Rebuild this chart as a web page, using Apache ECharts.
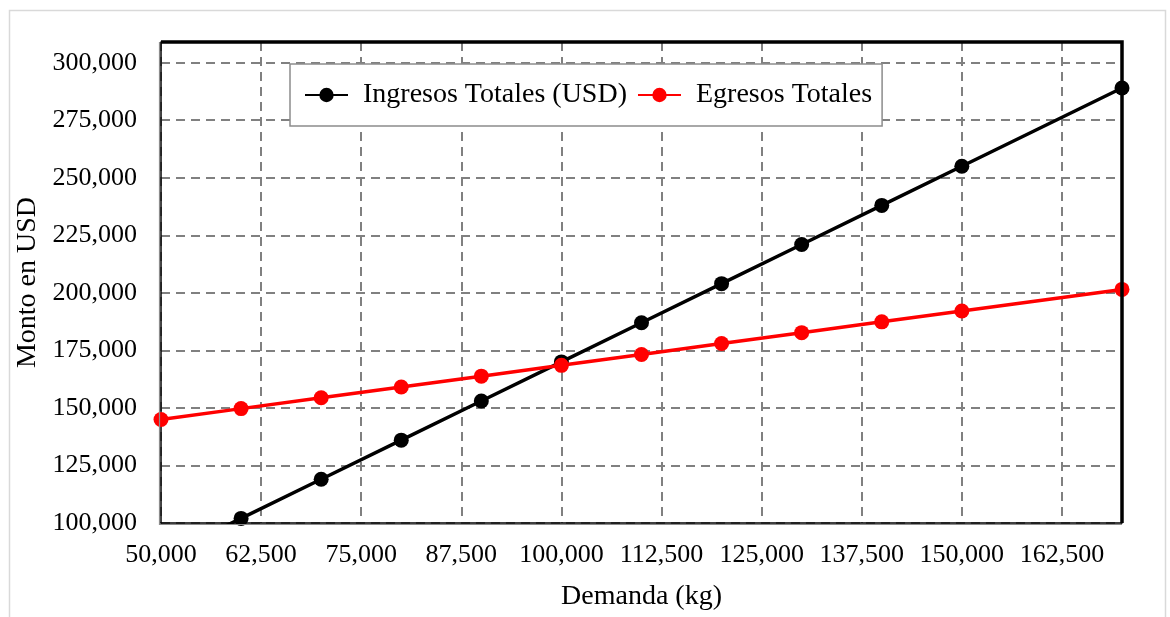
<!DOCTYPE html>
<html>
<head>
<meta charset="utf-8">
<script src="https://cdn.jsdelivr.net/npm/echarts@6/dist/echarts.min.js"></script>
<style>
html,body{margin:0;padding:0;background:#fff;}
#chart{width:1170px;height:617px;}
</style>
</head>
<body>
<div id="chart"></div>
<script>
const demanda = [50000, 60000, 70000, 80000, 90000, 100000, 110000, 120000, 130000, 140000, 150000, 170000];
const ingresos = [85000, 102000, 119000, 136000, 153000, 170000, 187000, 204000, 221000, 238000, 255000, 289000];
const egresos = [145000, 149700, 154400, 159100, 163800, 168500, 173200, 178000, 182700, 187400, 192100, 201500];
const seriesNames = ['Ingresos Totales (USD)', 'Egresos Totales'];
const xTitle = 'Demanda (kg)';
const yTitle = 'Monto en USD';

const FONT = "'Liberation Serif', 'Times New Roman', serif";
const fmt = v => Math.round(v).toLocaleString('en-US');
const G = {left: 161, top: 42, right: 1122, bottom: 523};
const chart = echarts.init(document.getElementById('chart'), null, {renderer: 'canvas'});

chart.setOption({
  backgroundColor: '#fff',
  animation: false,
  graphic: [
    {type: 'rect', left: 7, top: 8, shape: {width: 1156, height: 640},
     style: {fill: 'none', stroke: '#d9d9d9', lineWidth: 1.5}, silent: true, z: -10},
    {type: 'polyline', silent: true, z: 100,
     shape: {points: [[G.left, G.top], [G.right, G.top], [G.right, G.bottom]]},
     style: {stroke: '#000', lineWidth: 3.5, fill: 'none'}},
    {type: 'polyline', silent: true, z: 100,
     shape: {points: [[G.left - 1.5, G.top], [G.left - 1.5, G.bottom + 1.5], [G.right, G.bottom + 1.5]]},
     style: {stroke: '#8c8c8c', lineWidth: 1.2, fill: 'none'}}
  ],
  grid: {left: G.left, right: 1170 - G.right, top: G.top, bottom: 617 - G.bottom, show: false,
         containLabel: false, outerBoundsMode: 'none'},
  legend: {
    left: 290, top: 64, width: 594,
    padding: [17, 10, 17, 14],
    borderColor: '#8c8c8c', borderWidth: 1.5, backgroundColor: '#fff',
    itemWidth: 43, itemHeight: 18, itemGap: 10,
    textStyle: {fontFamily: FONT, fontSize: 28, color: '#000', padding: [0, 0, 0, 10]},
    data: seriesNames
  },
  xAxis: {
    type: 'value', min: 50000, max: 170000, interval: 12500,
    name: xTitle, nameLocation: 'middle', nameGap: 60,
    nameTextStyle: {fontFamily: FONT, fontSize: 28, color: '#000'},
    axisLine: {show: true, onZero: false, lineStyle: {color: '#000', width: 1.5}},
    axisTick: {show: false},
    axisLabel: {fontFamily: FONT, fontSize: 26, color: '#000', margin: 19, formatter: fmt, showMaxLabel: false},
    splitLine: {show: true, lineStyle: {color: '#808080', width: 2, type: [9, 6]}}
  },
  yAxis: {
    type: 'value', min: 100000, max: 309000, interval: 25000,
    name: yTitle, nameLocation: 'middle', nameGap: 110, nameRotate: 90,
    nameTextStyle: {fontFamily: FONT, fontSize: 28, color: '#000'},
    axisLine: {show: true, onZero: false, lineStyle: {color: '#000', width: 1.5}},
    axisTick: {show: false},
    axisLabel: {fontFamily: FONT, fontSize: 26, color: '#000', margin: 24, formatter: fmt, showMaxLabel: false},
    splitLine: {show: true, lineStyle: {color: '#808080', width: 2, type: [9, 6]}}
  },
  series: [
    {
      name: seriesNames[0], type: 'line', clip: true,
      data: demanda.map((d, i) => [d, ingresos[i]]),
      symbol: 'circle', symbolSize: 15,
      lineStyle: {color: '#000', width: 3.5}, itemStyle: {color: '#000'}, z: 3
    },
    {
      name: seriesNames[1], type: 'line', clip: true,
      data: demanda.map((d, i) => [d, egresos[i]]),
      symbol: 'circle', symbolSize: 15,
      lineStyle: {color: '#ff0000', width: 3.5}, itemStyle: {color: '#ff0000'}, z: 4
    }
  ]
});
</script>
</body>
</html>
